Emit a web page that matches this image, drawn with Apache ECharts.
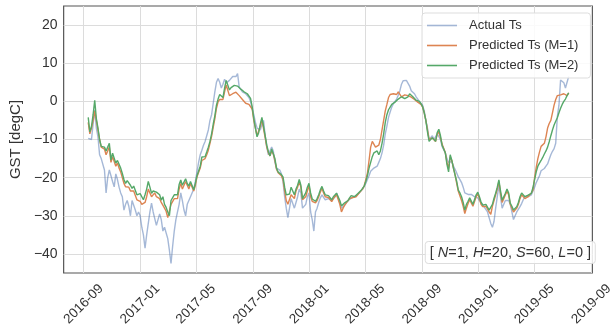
<!DOCTYPE html>
<html>
<head>
<meta charset="utf-8">
<script src="https://cdn.jsdelivr.net/npm/echarts@6/dist/echarts.min.js"></script>
<style>
  html, body { margin: 0; padding: 0; background: #ffffff; }
  #chart { width: 616px; height: 332px; }
</style>
</head>
<body>
<div id="chart"></div>
<script>
// Ground surface temperature (degC) sampled every 3.5 days, first sample 2016-09-11
const startYear = 2016, startMonth = 8, startDay = 11, stepHours = 84;

const actualTs = [
  -9.7, -10.2, -10, -6, -2.3, -7, -9.3, -14, -15, -14.5,
  -18, -24, -20, -18, -19.5, -21, -22.4, -19, -20.5, -22.5,
  -24, -25, -28.5, -27, -26, -27.5, -30, -26, -26.5, -28.5,
  -30, -29, -30, -33, -35, -38.5, -35, -32, -29, -26.7,
  -29, -29.5, -32.5, -31, -29.5, -31, -34, -33, -33, -36,
  -39, -42.5, -38, -34, -31, -29, -27, -24, -26, -28.5,
  -30, -27, -26, -25, -24.5, -23, -21, -18.5, -16, -14,
  -12.8, -11.5, -10.5, -9, -7.5, -5, -3.5, -0.5, 2.5, 5,
  6, 5, 3.5, 4.5, 5.8, 4.8, 5, 5.5, 6, 6.5,
  6.5, 6.5, 7.3, 3.8, 3.5, 2.5, 2.5, 2, 1.8, 1,
  0, -2, -3.5, -5.5, -7, -7.5, -7.5, -6, -5, -9,
  -12, -14, -13.5, -12, -13, -16, -17.5, -18, -18, -19,
  -21, -25, -28, -30.5, -30, -25.5, -26, -28, -26.5, -25,
  -23, -24, -28, -27.5, -27, -25, -24, -29, -31, -34,
  -29, -28, -26.5, -25.3, -24.5, -25, -25.8, -26, -25.5, -25.8,
  -26, -25.5, -25, -24, -24, -26.5, -28, -27.5, -27.2, -26.6,
  -26.2, -25.7, -25.2, -25.1, -25, -24.8, -24.5, -24, -23.6, -23,
  -22.5, -21.5, -20.5, -19.5, -18.3, -17.8, -17.5, -17.3, -17, -16,
  -15, -13.5, -11.5, -8.5, -6.5, -4.2, -2.8, -1.5, -0.6, 0,
  0.6, 1.6, 2.8, 4.5, 5.4, 5.6, 5.5, 5, 4, 2.8,
  3, 2, 1.2, 0.6, 0, -0.5, -1, -2.5, -5, -7,
  -10, -10, -9, -10, -10.5, -8.5, -8.8, -10, -11.8, -11.5,
  -13.5, -15, -16, -15.5, -15.8, -17, -17.8, -18.8, -19.8, -20.5,
  -21.3, -22.5, -24, -24.3, -24.4, -24.2, -24.4, -24.8, -25, -25.2,
  -25.3, -26, -26.5, -27, -27.7, -28, -29, -30.5, -32, -33,
  -31.5, -28, -25, -22, -25, -28, -27, -26, -25.6, -26,
  -27, -29, -31, -30, -29, -28.5, -27.6, -26.8, -25.8, -25,
  -25, -25, -24.8, -24.5, -24, -22.5, -21.3, -20.8, -19.5, -18.2,
  -17.8, -17.6, -17, -16.4, -15.2, -14, -13.1, -12.4, -11, -4,
  -1, 5.6, 5.4, 4.9, 3.5, 5, 6.5
];

const predictedM1 = [
  -5.5, -8.5, -7, -5, -2.5, -5, -7.5, -10, -12, -12.5,
  -12.5, -14, -13, -12, -16, -14.5, -15, -17, -16.2, -17.5,
  -18.5, -20, -21.5, -22.4, -22, -22.5, -23.5, -24, -23.5, -24,
  -25.8, -26, -26.2, -27, -27.5, -26.5, -25, -23, -24, -25,
  -24.5, -24, -25, -25, -25.5, -26.5, -26.2, -28, -28.8, -30.5,
  -31, -27, -26.5, -25.5, -25.5, -25.5, -23, -21.5, -23, -22.5,
  -21, -22, -23, -21.5, -22, -23.5, -22, -19.8, -19.3, -17.5,
  -15.5, -15.5, -15, -14, -12.8, -11, -9.2, -6.8, -4.5, -1.8,
  -0.1, 0.5, 1, 0.5, 2.5, 4.3, 4.5, 1.5, 1.8, 2,
  2.4, 2.4, 2, 1.5, 1, 0.5, 0, -0.5, -0.5, -0.8,
  -1, -2, -5, -7, -9, -8.5, -6.5, -4.8, -4.8, -9.5,
  -12, -13.5, -14.3, -13, -13.8, -15.5, -17.8, -18.7, -19, -19.5,
  -20.5, -23.5, -26, -27, -27, -24.5, -24.5, -25.5, -23.5, -22.5,
  -21, -22.5, -25.8, -25.5, -25, -23.5, -22, -25, -26.2, -26.5,
  -26.6, -26, -25, -23.8, -22.8, -24, -25, -25.5, -25.2, -25.7,
  -26.3, -25.5, -25, -24.5, -24.2, -27, -29, -28, -27.2, -26.6,
  -26.2, -25.5, -25, -25.2, -25.5, -25, -24.5, -24, -23.6, -23,
  -22.2, -20.5, -18.8, -15.5, -12, -10.5, -10.2, -12, -12, -11.5,
  -10, -7.5, -5, -2.5, -0.8, 1, 1.8, 2.1, 2, 1.7,
  1.8, 2.5, 2.3, 1.2, 1.3, 1.7, 1.7, 1.5, 1.4, 1.1,
  0.8, 0.5, 0, -0.2, -0.3, -0.8, -1.5, -3, -5, -7.5,
  -10, -10.5, -9.6, -10, -10.5, -8.6, -8, -9.5, -11.2, -11,
  -13.5, -16, -17.6, -14.5, -15.5, -17.5, -19.2, -21.5, -23.6, -24.8,
  -26, -27.5, -29.4, -28, -26.8, -25.8, -26.3, -27.5, -27.5, -25,
  -24.3, -25.5, -27, -27.6, -27.8, -27.5, -28, -29, -29.6, -27.5,
  -26, -24.5, -23, -21, -24, -26.5, -25.5, -24.5, -23.6, -24.5,
  -27, -28, -29, -28.5, -28, -27, -25.5, -24.5, -24, -25.5,
  -25.3, -25, -24.6, -24, -23.3, -20, -17.3, -15, -13.3, -11.8,
  -11.3, -11, -9.3, -7, -5.8, -5, -3, -1, 0.5, 1.5,
  1.7, 1.7, 1.8, 2, 1.5, 1.5, 2.2
];

const predictedM2 = [
  -4.2, -8, -6.6, -3.5, 0.3, -4.5, -7, -10, -11.8, -12.3,
  -12, -13, -12, -11, -15.4, -13.6, -14, -16.2, -15.5, -16.5,
  -17.5, -18.9, -20.5, -21.5, -20.8, -21, -22, -22.8, -22.2, -22.4,
  -24.5, -25, -24.2, -25, -25.8, -24.5, -23, -21, -22.5, -24.1,
  -23.5, -23.2, -23.8, -24.1, -24.5, -25.9, -25, -27, -27.8, -29,
  -30, -26, -25.5, -24.5, -24.5, -24.5, -21.8, -20.6, -22, -21.5,
  -20.3, -21.5, -22.2, -21, -21.5, -23.2, -21.5, -19.5, -19, -17,
  -14.6, -15, -14.5, -13.3, -12, -10.5, -8.5, -6, -3.8, -1,
  0.6, 1.8, 2, 1, 3.5, 5.5, 6, 3, 3.6, 3.9,
  4.2, 4.4, 4, 3.5, 3.2, 2.8, 2.5, 2, 2, 1.5,
  0.8, -1.4, -4.5, -7, -9.3, -8.2, -6, -4.2, -4.2, -9,
  -11.5, -13.2, -14.3, -12.5, -13, -15, -17.5, -18.5, -18.8, -19.2,
  -19.8, -22.5, -24.5, -24.8, -24.3, -22.5, -23, -24.5, -23, -22,
  -20.5, -22, -25.5, -25, -24, -22.5, -21.5, -24, -25.6, -26,
  -26.2, -25.5, -24.5, -23.2, -22.3, -23.5, -24.5, -25, -24.7, -25.2,
  -25.8, -25, -24.6, -24.1, -23.8, -26, -27.4, -27, -26.6, -26.3,
  -26, -25.3, -24.7, -24.8, -25, -24.6, -24.2, -23.8, -23.4, -22.8,
  -22.2, -21, -19.5, -17.5, -16, -14.5, -13.5, -13, -13, -14,
  -13, -11, -8.5, -5.5, -3.5, -2.2, -1.5, -0.8, -0.4, -0.2,
  0, 0.6, 0.9, 1.2, 1, 0.7, 0.6, 1.2, 2, 2.3,
  1.2, 0.8, 0.3, 0.1, 0, -0.6, -1.4, -3, -5, -8,
  -10.5, -11, -9.5, -10, -10.5, -8.2, -7.3, -9, -11.5, -11,
  -13.5, -16.5, -18.5, -14, -15.5, -17.5, -19.3, -21, -23.3, -24,
  -25, -26.5, -28.5, -27, -26.2, -25.3, -25.8, -27, -27, -24.5,
  -23.8, -25, -26.4, -27.2, -27.4, -27, -27.5, -28.5, -29, -27,
  -25.4, -24.1, -22.5, -20.6, -23.5, -25.9, -25, -24.1, -23, -24,
  -26.7, -27.5, -28.5, -28, -27.6, -26.5, -25, -24, -23.8, -25,
  -24.8, -24.6, -24.4, -24.1, -22.6, -20.5, -18.5, -17, -16.2, -15.5,
  -14.7, -13.8, -13, -12, -10.6, -9, -7.5, -6.2, -5.2, -4.3,
  -3, -1.8, -0.8, 0, 0.6, 1.5, 2.2
];

const seriesNames = ['Actual Ts', 'Predicted Ts (M=1)', 'Predicted Ts (M=2)'];

// Axis ticks
const xTickMonths = [
  [2016, 8], [2017, 0], [2017, 4], [2017, 8], [2018, 0],
  [2018, 4], [2018, 8], [2019, 0], [2019, 4], [2019, 8]
];
const yTicks = [-40, -30, -20, -10, 0, 10, 20];

const xTickValues = xTickMonths.map(([y, m]) => new Date(y, m, 1).getTime());
const dates = actualTs.map((_, k) => new Date(startYear, startMonth, startDay, stepHours * k).getTime());
const pair = (vals) => vals.map((v, k) => [dates[k], v]);

const textColor = '#333333';
const gridColor = '#dcdcdc';
const fontFamily = 'Liberation Sans, Arial, sans-serif';

const chart = echarts.init(document.getElementById('chart'), null, { renderer: 'canvas' });
chart.setOption({
  backgroundColor: '#ffffff',
  animation: false,
  textStyle: { fontFamily: fontFamily },
  grid: {
    left: 61, right: 17, top: 6, bottom: 59,
    show: true, borderColor: '#555555', borderWidth: 1.2,
    backgroundColor: 'transparent'
  },
  title: {
    text: '[ {i|N}=1, {i|H}=20, {i|S}=60, {i|L}=0 ]',
    right: 20, top: 241,
    padding: [4, 5, 4, 5],
    backgroundColor: 'rgba(255,255,255,0.85)',
    borderColor: '#dddddd', borderWidth: 1, borderRadius: 3,
    textStyle: {
      fontSize: 14.5, fontWeight: 'normal', color: textColor, fontFamily: fontFamily,
      rich: { i: { fontStyle: 'italic', fontSize: 14.5, color: textColor, fontFamily: fontFamily } }
    }
  },
  legend: {
    orient: 'vertical',
    left: 422, top: 13,
    padding: [5, 12, 5, 5],
    icon: 'rect',
    itemWidth: 30, itemHeight: 1.6, itemGap: 5,
    backgroundColor: 'rgba(255,255,255,0.85)',
    borderColor: '#dddddd', borderWidth: 1, borderRadius: 3,
    textStyle: { fontSize: 13, color: textColor, padding: [0, 0, 0, 7], lineHeight: 15 },
    data: seriesNames
  },
  xAxis: {
    type: 'value',
    min: new Date(2016, 6, 20).getTime(),
    max: new Date(2019, 8, 3).getTime(),
    axisLine: { show: false },
    axisTick: { show: false, customValues: xTickValues },
    splitLine: { show: true, lineStyle: { color: gridColor, width: 1 } },
    axisLabel: {
      customValues: xTickValues,
      rotate: 45,
      align: 'center',
      verticalAlign: 'middle',
      margin: 31,
      fontSize: 13.5,
      color: textColor,
      hideOverlap: false,
      formatter: (v) => {
        const d = new Date(v);
        return d.getFullYear() + '-' + String(d.getMonth() + 1).padStart(2, '0');
      }
    }
  },
  yAxis: {
    type: 'value',
    min: -45, max: 25,
    name: 'GST [degC]',
    nameLocation: 'middle',
    nameGap: 31,
    nameTextStyle: { fontSize: 15, color: textColor },
    axisLine: { show: false },
    axisTick: { show: false, customValues: yTicks },
    splitLine: { show: true, lineStyle: { color: gridColor, width: 1 } },
    axisLabel: {
      customValues: yTicks,
      margin: 6,
      fontSize: 14,
      color: textColor,
      formatter: (v) => (v < 0 ? '\u2212' + (-v) : String(v))
    }
  },
  series: [
    {
      name: seriesNames[0], type: 'line', symbol: 'none', z: 2,
      data: pair(actualTs),
      lineStyle: { width: 1.4, color: 'rgba(76,114,176,0.5)' },
      itemStyle: { color: 'rgba(76,114,176,0.5)' }
    },
    {
      name: seriesNames[1], type: 'line', symbol: 'none', z: 3,
      data: pair(predictedM1),
      lineStyle: { width: 1.4, color: '#DD8452' },
      itemStyle: { color: '#DD8452' }
    },
    {
      name: seriesNames[2], type: 'line', symbol: 'none', z: 4,
      data: pair(predictedM2),
      lineStyle: { width: 1.4, color: '#55A868' },
      itemStyle: { color: '#55A868' }
    }
  ]
});
</script>
</body>
</html>
